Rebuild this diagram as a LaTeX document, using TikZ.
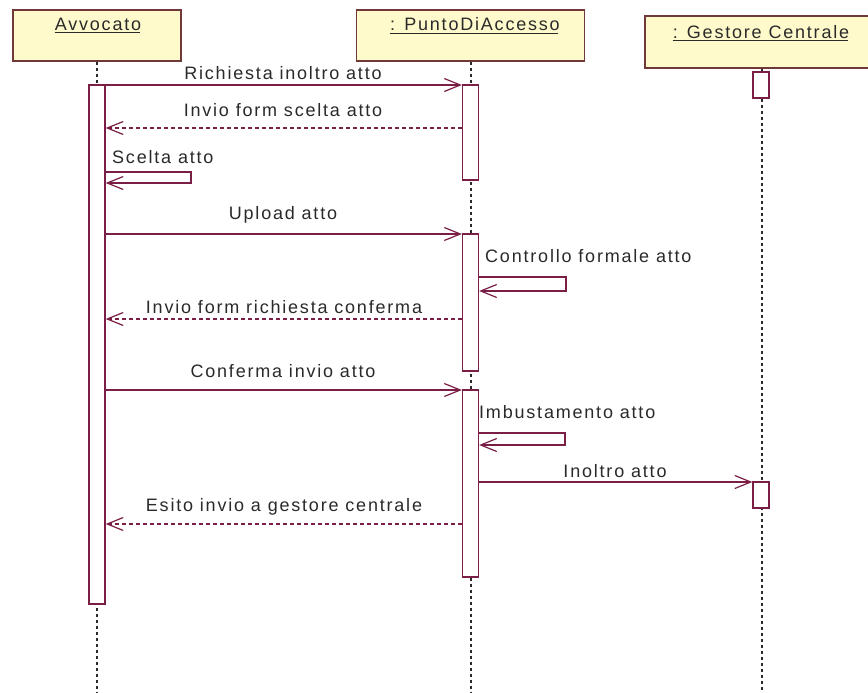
\documentclass[tikz,border=0pt]{standalone}
\usepackage{fontspec}
\setmainfont[LetterSpace=10]{Liberation Sans}
\usetikzlibrary{arrows.meta}
\definecolor{headfill}{HTML}{FEFACB}
\definecolor{headline}{HTML}{703838}
\definecolor{msgcol}{HTML}{7A1E46}
\definecolor{lifecol}{HTML}{2A2A2A}
\definecolor{txtcol}{HTML}{2A2A2A}
\begin{document}
\begin{tikzpicture}[x=1pt,y=-1pt,
  headbox/.style={draw=headline,fill=headfill,line width=1.4pt,inner sep=0pt,
    minimum height=51pt},
  headtxt/.style={inner sep=0pt,anchor=base,text=txtcol,
    font=\fontsize{18}{22}\selectfont},
  lbl/.style={inner sep=0pt,anchor=base,text=txtcol,
    font=\fontsize{18}{22}\selectfont},
  lblleft/.style={lbl,anchor=base west},
  lifeline/.style={draw=lifecol,line width=2pt,dash pattern=on 3pt off 3pt},
  actbar/.style={draw=msgcol,fill=white,line width=1.3pt,inner sep=0pt,
    minimum width=16pt},
  tip/.style={-{Straight Barb[length=16pt,width=13pt]}},
  msg/.style={draw=msgcol,line width=1.2pt,tip},
  reply/.style={msg,dash pattern=on 4pt off 3pt},
]
\fill[white] (0,0) rectangle (868,693);
\useasboundingbox (0,0) rectangle (868,693);

% object heads
\node[headbox,minimum width=168pt] (hA) at (97,35.5) {};
\node[headbox,minimum width=228pt] (hP) at (470.5,35.5) {};
\node[headbox,minimum width=232pt,minimum height=52pt] (hG) at (761,42) {};

\node[headtxt] (tA) at (98,30.5) {Avvocato};
\node[headtxt] (tP) at (475,31) {: PuntoDiAccesso};
\node[headtxt] (tG) at (761,38.5) {: Gestore Centrale};
\foreach \t in {tA,tP,tG}
  \draw[txtcol,line width=1pt] ([yshift=-2.5pt]\t.base west) -- ([yshift=-2.5pt,xshift=-1.5pt]\t.base east);

% lifelines
\coordinate (endA) at (97,693);
\coordinate (endP) at (471,693);
\coordinate (endG) at (762,693);
\draw[lifeline] (hA.south -| endA) -- (endA);
\draw[lifeline] (hP.south -| endP) -- (endP);
\draw[lifeline] (hG.south -| endG) -- (endG);

% activation bars
\node[actbar,minimum height=519pt] (aA) at (97,344.5) {};
\node[actbar,minimum height=95pt] (aP1) at (470.5,132.5) {};
\node[actbar,minimum height=137pt] (aP2) at (470.5,302.5) {};
\node[actbar,minimum height=187pt] (aP3) at (470.5,483.5) {};
\node[actbar,minimum height=26pt] (aG1) at (761,85) {};
\node[actbar,minimum height=26pt] (aG2) at (761,495) {};

% message levels
\coordinate (y1) at (0,85);
\coordinate (y2) at (0,128);
\coordinate (y4) at (0,234);
\coordinate (y6) at (0,319);
\coordinate (y7) at (0,390);
\coordinate (y9) at (0,482);
\coordinate (y10) at (0,524);
% self-call corners
\coordinate (s1t) at (191,172);
\coordinate (s1b) at (191,183);
\coordinate (s2t) at (566,277);
\coordinate (s2b) at (566,291);
\coordinate (s3t) at (565,433);
\coordinate (s3b) at (565,445);

% messages
\draw[msg] (aA.east |- y1) -- (aP1.west |- y1);
\node[lbl] (l1) at (283,79.5) {Richiesta inoltro atto};

\draw[reply] (aP1.west |- y2) -- (aA.east |- y2);
\node[lbl] (l2) at (283,116.5) {Invio form scelta atto};

\draw[msg] (aA.east |- s1t) -- (s1t) -- (s1b) -- (aA.east |- s1b);
\node[lblleft] (l3) at (112,163.5) {Scelta atto};

\draw[msg] (aA.east |- y4) -- (aP2.west |- y4);
\node[lbl] (l4) at (283,219.5) {Upload atto};

\draw[msg] (aP2.east |- s2t) -- (s2t) -- (s2b) -- (aP2.east |- s2b);
\node[lblleft] (l5) at (485,262.5) {Controllo formale atto};

\draw[reply] (aP2.west |- y6) -- (aA.east |- y6);
\node[lbl] (l6) at (284,313.5) {Invio form richiesta conferma};

\draw[msg] (aA.east |- y7) -- (aP3.west |- y7);
\node[lbl] (l7) at (283,377.5) {Conferma invio atto};

\draw[msg] (aP3.east |- s3t) -- (s3t) -- (s3b) -- (aP3.east |- s3b);
\node[lblleft] (l8) at (479,418.5) {Imbustamento atto};

\draw[msg] (aP3.east |- y9) -- (aG2.west |- y9);
\node[lbl] (l9) at (615,477.5) {Inoltro atto};

\draw[reply] (aP3.west |- y10) -- (aA.east |- y10);
\node[lbl] (l10) at (284,511.5) {Esito invio a gestore centrale};
\end{tikzpicture}
\end{document}
